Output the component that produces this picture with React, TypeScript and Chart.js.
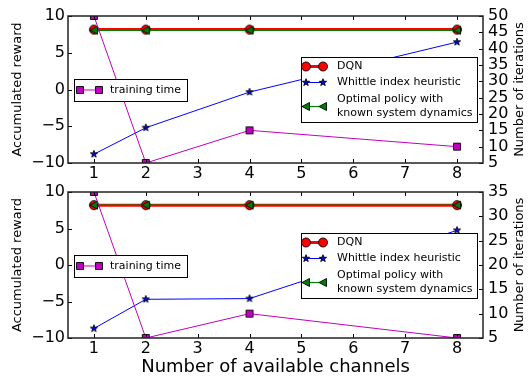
import { useEffect, useRef } from "react";
import { Chart, registerables } from "chart.js";
Chart.register(...registerables);

// ---------- data ----------
const channels = [1, 2, 4, 8];
const xTickValues = [1, 2, 3, 4, 5, 6, 7, 8];
const rewardTickValues = [-10, -5, 0, 5, 10];

const topDqn = [8.15, 8.15, 8.15, 8.15];
const topWhittle = [-8.8, -5.2, -0.35, 6.45];
const topOptimal = [8.05, 8.05, 8.05, 8.05];
const topTraining = [50, 5, 15, 10];
const topIterTickValues = [5, 10, 15, 20, 25, 30, 35, 40, 45, 50];

const bottomDqn = [8.2, 8.2, 8.2, 8.2];
const bottomWhittle = [-8.7, -4.7, -4.6, 4.75];
const bottomOptimal = [8.2, 8.2, 8.2, 8.2];
const bottomTraining = [35, 5, 10, 5];
const bottomIterTickValues = [5, 10, 15, 20, 25, 30, 35];

const dqnLabel = "DQN";
const whittleLabel = "Whittle index heuristic";
const optimalLabel = ["Optimal policy with", "known system dynamics"];
const trainingLabel = "training time";
const xTitle = "Number of available channels";
const leftTitle = "Accumulated reward";
const rightTitle = "Number of iterations";

// ---------- styles ----------
const RED = "#ff0000";
const BLUE = "#0000ff";
const GREEN = "#008000";
const MAGENTA = "#bf00bf";
const FONT = "'DejaVu Sans', sans-serif";

type Kind = "circle" | "square" | "star" | "tri";

function drawMarker(ctx: CanvasRenderingContext2D, kind: Kind, x: number, y: number) {
  ctx.save();
  ctx.lineWidth = 0.9;
  ctx.strokeStyle = "#000";
  ctx.beginPath();
  if (kind === "circle") {
    ctx.fillStyle = RED;
    ctx.arc(x, y, 4.5, 0, Math.PI * 2);
  } else if (kind === "square") {
    ctx.fillStyle = MAGENTA;
    ctx.rect(x - 3.5, y - 3.5, 7, 7);
  } else if (kind === "star") {
    ctx.fillStyle = BLUE;
    const R = 3.8;
    const r = 1.5;
    for (let i = 0; i < 10; i++) {
      const rad = i % 2 === 0 ? R : r;
      const ang = -Math.PI / 2 + (i * Math.PI) / 5;
      const px = x + rad * Math.cos(ang);
      const py = y + rad * Math.sin(ang);
      if (i === 0) ctx.moveTo(px, py);
      else ctx.lineTo(px, py);
    }
    ctx.closePath();
  } else {
    ctx.fillStyle = GREEN;
    ctx.moveTo(x - 4, y);
    ctx.lineTo(x + 3.5, y - 4);
    ctx.lineTo(x + 3.5, y + 4);
    ctx.closePath();
  }
  ctx.fill();
  ctx.stroke();
  ctx.restore();
}

function markerImage(kind: Kind): HTMLCanvasElement {
  const c = document.createElement("canvas");
  c.width = 12;
  c.height = 12;
  const ctx = c.getContext("2d")!;
  drawMarker(ctx, kind, 6, 6);
  return c;
}

type Box = { x: number; y: number; w: number; h: number };

function drawSample(ctx: CanvasRenderingContext2D, x1: number, x2: number, y: number, color: string, width: number, kind: Kind) {
  ctx.save();
  ctx.strokeStyle = color;
  ctx.lineWidth = width;
  ctx.beginPath();
  ctx.moveTo(x1, y);
  ctx.lineTo(x2, y);
  ctx.stroke();
  ctx.restore();
  drawMarker(ctx, kind, x1, y);
  drawMarker(ctx, kind, x2, y);
}

function frameBox(ctx: CanvasRenderingContext2D, b: Box) {
  ctx.fillStyle = "#fff";
  ctx.fillRect(b.x, b.y, b.w, b.h);
  ctx.strokeStyle = "#000";
  ctx.lineWidth = 1;
  ctx.strokeRect(b.x + 0.5, b.y + 0.5, b.w, b.h);
}

function makeFramePlugin(iterTicks: number[], leftBox: Box, rightBox: Box) {
  return {
    id: "frame",
    afterDatasetsDraw(chart: any) {
      const { ctx, chartArea: a, scales } = chart;
      ctx.save();
      ctx.strokeStyle = "#000";
      ctx.lineWidth = 1;
      const tl = 4;
      ctx.beginPath();
      for (const v of xTickValues) {
        const px = Math.round(scales.x.getPixelForValue(v)) + 0.5;
        ctx.moveTo(px, a.bottom);
        ctx.lineTo(px, a.bottom - tl);
        ctx.moveTo(px, a.top);
        ctx.lineTo(px, a.top + tl);
      }
      for (const v of rewardTickValues) {
        const py = Math.round(scales.y.getPixelForValue(v)) + 0.5;
        ctx.moveTo(a.left, py);
        ctx.lineTo(a.left + tl, py);
      }
      for (const v of iterTicks) {
        const py = Math.round(scales.y2.getPixelForValue(v)) + 0.5;
        ctx.moveTo(a.right, py);
        ctx.lineTo(a.right - tl, py);
      }
      ctx.stroke();
      ctx.lineWidth = 1.5;
      ctx.strokeStyle = "#222";
      ctx.strokeRect(a.left, a.top, a.right - a.left, a.bottom - a.top);
      ctx.restore();
    },
    afterDraw(chart: any) {
      const { ctx, chartArea: a } = chart;
      ctx.save();
      // right axis title
      ctx.translate(520, (a.top + a.bottom) / 2);
      ctx.rotate(-Math.PI / 2);
      ctx.font = `13px ${FONT}`;
      ctx.fillStyle = "#000";
      ctx.textAlign = "center";
      ctx.textBaseline = "middle";
      ctx.fillText(rightTitle, 0, 0);
      ctx.restore();

      ctx.save();
      ctx.font = `11px ${FONT}`;
      ctx.textBaseline = "middle";
      ctx.textAlign = "left";
      // left legend (twin axis)
      frameBox(ctx, leftBox);
      const ly = leftBox.y + 11;
      drawSample(ctx, leftBox.x + 6, leftBox.x + 25, ly, MAGENTA, 1, "square");
      ctx.fillStyle = "#000";
      ctx.fillText(trainingLabel, leftBox.x + 36, ly + 0.5);
      // right legend
      frameBox(ctx, rightBox);
      const sx1 = rightBox.x + 5;
      const sx2 = rightBox.x + 22;
      const tx = rightBox.x + 36;
      drawSample(ctx, sx1, sx2, rightBox.y + 9.5, RED, 3, "circle");
      drawSample(ctx, sx1, sx2, rightBox.y + 25.5, BLUE, 1, "star");
      drawSample(ctx, sx1, sx2, rightBox.y + 49.5, GREEN, 1.2, "tri");
      ctx.fillStyle = "#000";
      ctx.fillText(dqnLabel, tx, rightBox.y + 9.5);
      ctx.fillText(whittleLabel, tx, rightBox.y + 25.5);
      ctx.fillText(optimalLabel[0], tx, rightBox.y + 42.5);
      ctx.fillText(optimalLabel[1], tx, rightBox.y + 56);
      ctx.restore();
    },
  };
}

const fmt = (v: number) => String(v).replace("-", "\u2212");

function buildConfig(p: {
  dqn: number[];
  whittle: number[];
  optimal: number[];
  training: number[];
  iterTicks: number[];
  padTop: number;
  xAxisHeight: number;
  showXTitle: boolean;
}) {
  const pts = (ys: number[]) => channels.map((x, i) => ({ x, y: ys[i] }));
  const iterMin = p.iterTicks[0];
  const iterMax = p.iterTicks[p.iterTicks.length - 1];
  const tickFont = { family: FONT, size: 16 };
  return {
    type: "line" as const,
    data: {
      datasets: [
        {
          label: trainingLabel,
          data: pts(p.training),
          yAxisID: "y2",
          borderColor: MAGENTA,
          borderWidth: 1,
          pointStyle: markerImage("square"),
          pointRadius: 4,
          tension: 0,
          fill: false,
        },
        {
          label: optimalLabel.join(" "),
          data: pts(p.optimal),
          yAxisID: "y",
          borderColor: GREEN,
          borderWidth: 1.2,
          pointStyle: markerImage("tri"),
          pointRadius: 4,
          tension: 0,
          fill: false,
        },
        {
          label: whittleLabel,
          data: pts(p.whittle),
          yAxisID: "y",
          borderColor: BLUE,
          borderWidth: 1,
          pointStyle: markerImage("star"),
          pointRadius: 4,
          tension: 0,
          fill: false,
        },
        {
          label: dqnLabel,
          data: pts(p.dqn),
          yAxisID: "y",
          borderColor: RED,
          borderWidth: 3,
          pointStyle: markerImage("circle"),
          pointRadius: 4,
          tension: 0,
          fill: false,
        },
      ],
    },
    options: {
      animation: false as const,
      responsive: false,
      events: [],
      layout: { padding: { top: p.padTop, left: 0, right: 0, bottom: 0 }, autoPadding: false },
      plugins: { legend: { display: false }, tooltip: { enabled: false } },
      scales: {
        x: {
          type: "linear" as const,
          min: 0.5,
          max: 8.5,
          afterBuildTicks: (s: any) => {
            s.ticks = xTickValues.map((v) => ({ value: v }));
          },
          afterFit: (s: any) => {
            s.height = p.xAxisHeight;
          },
          grid: { display: false, drawTicks: false },
          border: { display: false },
          ticks: { font: tickFont, color: "#000", padding: 1, maxRotation: 0, autoSkip: false, callback: (v: any) => fmt(v) },
          title: { display: p.showXTitle, text: xTitle, color: "#000", font: { family: FONT, size: 18 }, padding: { top: 0, bottom: 1 } },
        },
        y: {
          type: "linear" as const,
          position: "left" as const,
          min: -10,
          max: 10,
          afterBuildTicks: (s: any) => {
            s.ticks = rewardTickValues.map((v) => ({ value: v }));
          },
          afterFit: (s: any) => {
            s.width = 68;
          },
          grid: { display: false, drawTicks: false },
          border: { display: false },
          ticks: { font: tickFont, color: "#000", padding: 3, autoSkip: false, callback: (v: any) => fmt(v) },
          title: { display: true, text: leftTitle, color: "#000", font: { family: FONT, size: 13 }, padding: { top: 10, bottom: 0 } },
        },
        y2: {
          type: "linear" as const,
          position: "right" as const,
          min: iterMin,
          max: iterMax,
          afterBuildTicks: (s: any) => {
            s.ticks = p.iterTicks.map((v) => ({ value: v }));
          },
          afterFit: (s: any) => {
            s.width = 49;
          },
          grid: { display: false, drawTicks: false },
          border: { display: false },
          ticks: { font: tickFont, color: "#000", padding: 5, autoSkip: false, callback: (v: any) => fmt(v) },
        },
      },
    },
  };
}

export default function App() {
  const topRef = useRef<HTMLCanvasElement | null>(null);
  const botRef = useRef<HTMLCanvasElement | null>(null);

  useEffect(() => {
    Chart.defaults.font.family = FONT;
    const leftBox: Box = { x: 74, y: 79, w: 113, h: 22 };
    const rightBox: Box = { x: 301, y: 57, w: 176, h: 65 };
    const top = new Chart(topRef.current!, {
      ...(buildConfig({
        dqn: topDqn,
        whittle: topWhittle,
        optimal: topOptimal,
        training: topTraining,
        iterTicks: topIterTickValues,
        padTop: 16,
        xAxisHeight: 27,
        showXTitle: false,
      }) as any),
      plugins: [makeFramePlugin(topIterTickValues, leftBox, rightBox)],
    });
    const bottom = new Chart(botRef.current!, {
      ...(buildConfig({
        dqn: bottomDqn,
        whittle: bottomWhittle,
        optimal: bottomOptimal,
        training: bottomTraining,
        iterTicks: bottomIterTickValues,
        padTop: 16,
        xAxisHeight: 41,
        showXTitle: true,
      }) as any),
      plugins: [makeFramePlugin(bottomIterTickValues, leftBox, rightBox)],
    });
    return () => {
      top.destroy();
      bottom.destroy();
    };
  }, []);

  return (
    <div style={{ position: "absolute", left: 0, top: 0, width: 532, height: 379, background: "#fff" }}>
      <canvas ref={topRef} width={532} height={190} style={{ position: "absolute", left: 0, top: 0, width: 532, height: 190 }} />
      <canvas ref={botRef} width={532} height={203} style={{ position: "absolute", left: 0, top: 176, width: 532, height: 203 }} />
    </div>
  );
}
